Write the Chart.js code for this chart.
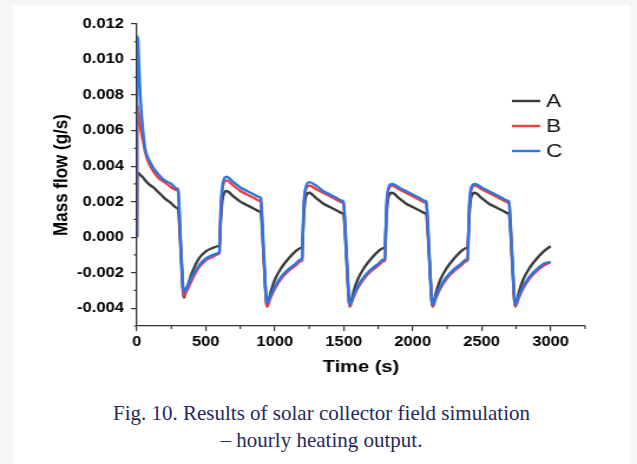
<!DOCTYPE html>
<html>
<head>
<meta charset="utf-8">
<script src="https://cdn.jsdelivr.net/npm/chart.js@4.4.1/dist/chart.umd.min.js"></script>
<style>
  body { margin: 0; background: #f6f6f6; }
  #wrap { position: relative; width: 637px; height: 464px; overflow: hidden; }
  #panel { position: absolute; left: 13px; top: 5px; width: 617px; height: 459px; background: #fff; }
  #cap {
    position: absolute; left: 13px; top: 400px; width: 617px;
    text-align: center; font-family: "Liberation Serif", "Times New Roman", serif;
    font-size: 21px; line-height: 27px; color: #252a5c;
  }
</style>
</head>
<body>
<div id="wrap">
  <div id="panel"></div>
  <!-- drawn narrow and stretched sideways, like the source figure -->
  <canvas id="chart" width="540" height="390" style="position:absolute;left:0;top:0;width:637px;height:390px"></canvas>
  <div id="cap">Fig. 10. Results of solar collector field simulation<br>– hourly heating output.</div>
</div>
<script>
// time (s)
var time = [
  0, 3, 8, 15, 25, 40, 60, 85, 120, 160, 200, 250, 288, 298, 320, 335, 343, 350, 370, 400, 450, 500, 550, 590, 598,
  610, 625, 650, 700, 750, 800, 850, 888, 898, 920, 938, 945, 952, 970, 1000, 1050, 1100, 1150, 1190, 1198,
  1210, 1225, 1250, 1300, 1350, 1400, 1450, 1488, 1498, 1520, 1538, 1545, 1552, 1570, 1600, 1650, 1700, 1750, 1790, 1798,
  1810, 1825, 1850, 1900, 1950, 2000, 2050, 2088, 2098, 2120, 2138, 2145, 2152, 2170, 2200, 2250, 2300, 2350, 2390, 2398,
  2410, 2425, 2450, 2500, 2550, 2600, 2650, 2688, 2698, 2720, 2738, 2745, 2752, 2770, 2800, 2850, 2900, 2950, 3000
];

// mass flow (g/s) for A, B, C
var flowA = [
  0, 0.0036, 0.0036, 0.0036, 0.0035, 0.0034, 0.0032, 0.0030, 0.0028, 0.0025, 0.0022, 0.0019, 0.00165, 0.0016,
  -0.0010, -0.0031, -0.0034, -0.0032, -0.0027, -0.0020, -0.0012, -0.0008, -0.0006, -0.0005, -0.00045,
  0.0012, 0.0023, 0.0026, 0.0023, 0.0020, 0.0018, 0.0016, 0.00145, 0.0014,
  -0.0012, -0.0036, -0.0039, -0.0037, -0.0031, -0.0024, -0.0017, -0.0012, -0.0008, -0.0006, -0.00055,
  0.0012, 0.0023, 0.0025, 0.0022, 0.0019, 0.0017, 0.0015, 0.00135, 0.0013,
  -0.0012, -0.0036, -0.0039, -0.0037, -0.0031, -0.0024, -0.0017, -0.0012, -0.0008, -0.0006, -0.00055,
  0.0012, 0.0023, 0.0025, 0.0022, 0.0019, 0.0017, 0.0015, 0.00135, 0.0013,
  -0.0012, -0.0036, -0.0039, -0.0037, -0.0031, -0.0024, -0.0017, -0.0012, -0.0008, -0.0006, -0.00055,
  0.0012, 0.0023, 0.0025, 0.0022, 0.0019, 0.0017, 0.0015, 0.00135, 0.0013,
  -0.0012, -0.0036, -0.0039, -0.0037, -0.0031, -0.0024, -0.0017, -0.0012, -0.0008, -0.0005
];
var flowB = [
  0, 0.0074, 0.0073, 0.0068, 0.0062, 0.0056, 0.0048, 0.0042, 0.0037, 0.0033, 0.0031, 0.0028, 0.00265, 0.0026,
  -0.0008, -0.0030, -0.0033, -0.0032, -0.0029, -0.0024, -0.0017, -0.0013, -0.0011, -0.00095, -0.0009,
  0.0017, 0.0029, 0.0032, 0.0029, 0.0026, 0.0024, 0.0022, 0.00205, 0.0020,
  -0.0010, -0.0036, -0.0039, -0.0038, -0.0034, -0.0029, -0.0023, -0.0019, -0.0016, -0.00135, -0.0013,
  0.0016, 0.0027, 0.0029, 0.0027, 0.0025, 0.0023, 0.0021, 0.00195, 0.0019,
  -0.0010, -0.0036, -0.0039, -0.0038, -0.0034, -0.0029, -0.0023, -0.0019, -0.0016, -0.00135, -0.0013,
  0.0016, 0.0027, 0.0029, 0.0027, 0.0025, 0.0023, 0.0021, 0.00195, 0.0019,
  -0.0010, -0.0036, -0.0039, -0.0038, -0.0034, -0.0029, -0.0023, -0.0019, -0.0016, -0.00135, -0.0013,
  0.0016, 0.0027, 0.0029, 0.0027, 0.0025, 0.0023, 0.0021, 0.00195, 0.0019,
  -0.0010, -0.0036, -0.0039, -0.0038, -0.0034, -0.0029, -0.0023, -0.0019, -0.0016, -0.0014
];
var flowC = [
  0, 0.0113, 0.0111, 0.0098, 0.0080, 0.0064, 0.0050, 0.0044, 0.0039, 0.0035, 0.0032, 0.0030, 0.00275, 0.0027,
  -0.0006, -0.0028, -0.0031, -0.0030, -0.0027, -0.0022, -0.0016, -0.0012, -0.0010, -0.0009, -0.00085,
  0.0019, 0.0031, 0.0034, 0.0031, 0.0028, 0.0026, 0.0024, 0.00225, 0.0022,
  -0.0009, -0.0034, -0.0037, -0.0036, -0.0033, -0.0028, -0.0022, -0.0018, -0.0015, -0.00125, -0.0012,
  0.0018, 0.0028, 0.0031, 0.0029, 0.0026, 0.0024, 0.0022, 0.00205, 0.0020,
  -0.0009, -0.0035, -0.0038, -0.0037, -0.0033, -0.0028, -0.0022, -0.0018, -0.0015, -0.00125, -0.0012,
  0.0018, 0.0028, 0.0030, 0.0028, 0.0026, 0.0024, 0.0022, 0.00205, 0.0020,
  -0.0009, -0.0035, -0.0038, -0.0037, -0.0033, -0.0028, -0.0022, -0.0018, -0.0015, -0.00125, -0.0012,
  0.0018, 0.0028, 0.0030, 0.0028, 0.0026, 0.0024, 0.0022, 0.00205, 0.0020,
  -0.0009, -0.0035, -0.0038, -0.0037, -0.0033, -0.0028, -0.0022, -0.0018, -0.0015, -0.0014
];

var seriesNames = ['A', 'B', 'C'];
var seriesColors = ['#3c3c3c', '#f03e3e', '#2b76e5'];

var FONT = '"Liberation Sans", Arial, sans-serif';
Chart.defaults.font.family = FONT;

function pts(vals) {
  return time.map(function (t, i) { return { x: t, y: vals[i] }; });
}

var datasets = [flowA, flowB, flowC].map(function (vals, i) {
  return {
    label: seriesNames[i],
    data: pts(vals),
    borderColor: seriesColors[i],
    backgroundColor: seriesColors[i],
    borderWidth: 2.4,
    pointRadius: 0,
    fill: false,
    cubicInterpolationMode: 'monotone',
    order: 2 - i
  };
});

function isMajorX(v) { return v % 500 === 0; }
function isMajorY(v) { return Math.round(v * 1000) % 2 === 0; }

// legend drawn as a vertical list in the top right of the plot
var sideLegend = {
  id: 'sideLegend',
  afterDraw: function (chart) {
    var ctx = chart.ctx;
    ctx.save();
    ctx.font = '19px ' + FONT;
    ctx.textBaseline = 'middle';
    ctx.fillStyle = '#111';
    chart.data.datasets.forEach(function (ds, i) {
      var y = 101 + i * 25;
      ctx.strokeStyle = ds.borderColor;
      ctx.lineWidth = 2.4;
      ctx.beginPath();
      ctx.moveTo(434, y);
      ctx.lineTo(458, y);
      ctx.stroke();
      ctx.fillText(ds.label, 463, y + 1);
    });
    ctx.restore();
  }
};

// short minor ticks (the library draws only the long major ones)
var minorTicks = {
  id: 'minorTicks',
  afterDraw: function (chart) {
    var ctx = chart.ctx;
    var xs = chart.scales.x, ys = chart.scales.y;
    ctx.save();
    ctx.strokeStyle = '#333';
    ctx.lineWidth = 1.2;
    ctx.beginPath();
    xs.ticks.forEach(function (t) {
      if (isMajorX(t.value)) return;
      var px = xs.getPixelForValue(t.value);
      ctx.moveTo(px, xs.top);
      ctx.lineTo(px, xs.top + 3);
    });
    ys.ticks.forEach(function (t) {
      if (isMajorY(t.value)) return;
      var py = ys.getPixelForValue(t.value);
      ctx.moveTo(ys.right, py);
      ctx.lineTo(ys.right - 2.5, py);
    });
    ctx.stroke();
    ctx.restore();
  }
};

var tickFont = { family: FONT, size: 14, weight: 'bold' };

new Chart(document.getElementById('chart').getContext('2d'), {
  type: 'line',
  data: { datasets: datasets },
  plugins: [sideLegend, minorTicks],
  options: {
    responsive: false,
    devicePixelRatio: 1,
    animation: false,
    layout: { padding: { left: 42, right: 44, top: 24, bottom: 12 } },
    plugins: { legend: { display: false }, tooltip: { enabled: false } },
    scales: {
      x: {
        type: 'linear',
        min: 0,
        max: 3250,
        ticks: {
          stepSize: 250,
          autoSkip: false,
          maxRotation: 0,
          padding: 3,
          color: '#000',
          font: tickFont,
          callback: function (v) { return (isMajorX(v) && v <= 3000) ? String(v) : ''; }
        },
        grid: {
          drawOnChartArea: false, drawTicks: true, tickLength: 5, lineWidth: 1.2,
          tickColor: function (c) { return c.tick && isMajorX(c.tick.value) ? '#333' : 'rgba(0,0,0,0)'; }
        },
        border: { display: true, color: '#333', width: 1.3 },
        title: { display: true, text: 'Time (s)', color: '#000', font: { family: FONT, size: 17, weight: 'bold' }, padding: 0 },
        afterFit: function (s) { s.height = 52; }
      },
      y: {
        min: -0.005,
        max: 0.012,
        ticks: {
          stepSize: 0.001,
          autoSkip: false,
          padding: 6,
          color: '#000',
          font: tickFont,
          callback: function (v) { return isMajorY(v) ? (Math.round(v * 1000) / 1000).toFixed(3) : ''; }
        },
        grid: {
          drawOnChartArea: false, drawTicks: true, tickLength: 5, lineWidth: 1.2,
          tickColor: function (c) { return c.tick && isMajorY(c.tick.value) ? '#333' : 'rgba(0,0,0,0)'; }
        },
        border: { display: true, color: '#333', width: 1.3 },
        title: { display: true, text: 'Mass flow (g/s)', color: '#000', font: { family: FONT, size: 17, weight: 'bold' }, padding: 0 },
        afterFit: function (s) { s.width = 74; }
      }
    }
  }
});
</script>
</body>
</html>
